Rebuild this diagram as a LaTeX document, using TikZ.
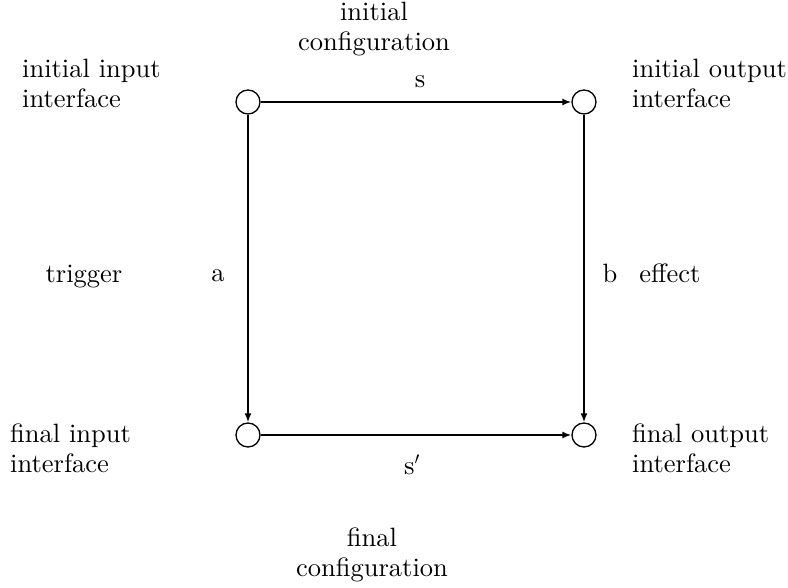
\documentclass[tikz,border=0pt]{standalone}
\usepackage{fontspec}
\setmainfont{lmroman10-regular.otf}
\usetikzlibrary{arrows.meta}
\begin{document}
\begin{tikzpicture}[x=1pt,y=-1pt,
  txt/.style={inner sep=0pt,font=\fontsize{26.5}{30}\selectfont},
  ltxt/.style={txt,align=left,anchor=west},
  ctxt/.style={txt,align=center},
  btxt/.style={txt,anchor=base},
  iface/.style={circle,draw,line width=1.3pt,minimum size=24pt,inner sep=0pt},
  conn/.style={line width=2pt,-{Latex[length=9pt,width=7pt]}}]
\useasboundingbox (0,0) rectangle (788,588);
\node[iface] (ii) at (248,102) {};
\node[iface] (io) at (584,102) {};
\node[iface] (fi) at (248,435) {};
\node[iface] (fo) at (584,435) {};
\draw[conn] (ii) -- (io);
\draw[conn] (fi) -- (fo);
\draw[conn] (ii) -- (fi);
\draw[conn] (io) -- (fo);
\node[ctxt] (ic) at (374,29.4) {initial\\configuration};
\node[ctxt] (fc) at (372,554.4) {final\\configuration};
\node[ltxt] (iil) at (22,83.8) {initial input\\interface};
\node[ltxt] (iol) at (632,83.8) {initial output\\interface};
\node[ltxt] (fil) at (10,448.8) {final input\\interface};
\node[ltxt] (fol) at (632,448.8) {final output\\interface};
\node[btxt] (trig) at (84,283) {trigger};
\node[btxt] (eff) at (670,283) {effect};
\node[btxt] (la) at (218,282) {a};
\node[btxt] (lb) at (610,283) {b};
\node[btxt] (ls) at (420,88) {s};
\node[btxt] (lsp) at (412,474) {s$'$};
\end{tikzpicture}
\end{document}
